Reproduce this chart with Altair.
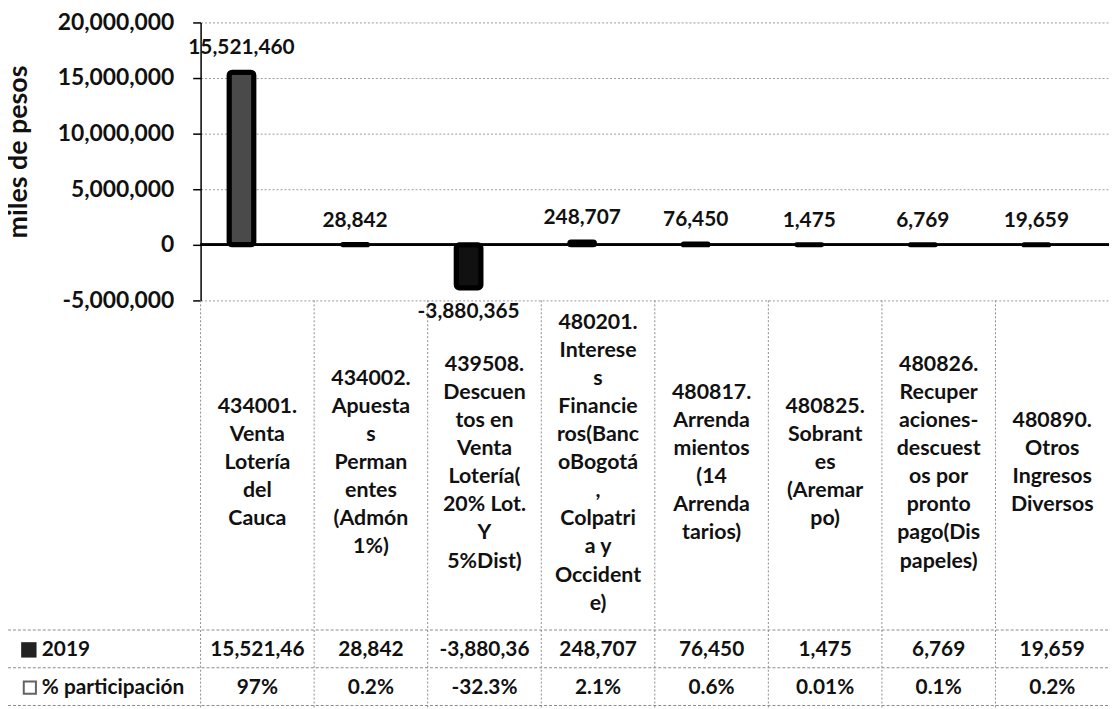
import altair as alt
import pandas as pd

# ---- data ----
categories = [
    "434001.|Venta|Lotería|del|Cauca",
    "434002.|Apuesta|s|Perman|entes|(Admón|1%)",
    "439508.|Descuen|tos en|Venta|Lotería(|20% Lot.|Y|5%Dist)",
    "480201.|Interese|s|Financie|ros(Banc|oBogotá|,|Colpatri|a y|Occident|e)",
    "480817.|Arrenda|mientos|(14|Arrenda|tarios)",
    "480825.|Sobrant|es|(Aremar|po)",
    "480826.|Recuper|aciones-|descuest|os por|pronto|pago(Dis|papeles)",
    "480890.|Otros|Ingresos|Diversos",
]
values = [15521460, 28842, -3880365, 248707, 76450, 1475, 6769, 19659]
table_2019 = ["15,521,46", "28,842", "-3,880,36", "248,707", "76,450", "1,475", "6,769", "19,659"]
table_pct = ["97%", "0.2%", "-32.3%", "2.1%", "0.6%", "0.01%", "0.1%", "0.2%"]
row_headers = ["2019", "% participación"]
y_ticks = [-5000000, 0, 5000000, 10000000, 15000000, 20000000]
y_domain = [-5000000, 20000000]

df = pd.DataFrame({"cat": categories, "value": values, "t2019": table_2019, "tpct": table_pct})

FONT = "Lato"
INK = "#111111"
W, H = 915, 280
LINE_H = 28.3

x_enc = alt.X(
    "cat:N",
    sort=categories,
    scale=alt.Scale(paddingInner=0, paddingOuter=0),
    axis=None,
)
x_plain = alt.X("cat:N", sort=categories)

y_enc = alt.Y(
    "value:Q",
    scale=alt.Scale(domain=y_domain, nice=False, zero=False),
    axis=alt.Axis(
        values=y_ticks,
        labelExpr="(datum.value < 0 ? '-' : '') + format(abs(datum.value), ',')",
        labelFont=FONT,
        labelFontSize=23,
        labelFontWeight="bold",
        labelColor=INK,
        labelPadding=19,
        tickSize=8,
        tickColor="#000000",
        tickWidth=1.5,
        domainColor="#000000",
        domainWidth=1.5,
        grid=True,
        gridColor="#9a9a9a",
        gridDash=[2, 2],
        gridWidth=1,
        title="miles de pesos",
        titleFont=FONT,
        titleFontSize=27,
        titleFontWeight="bold",
        titleColor=INK,
        titleAngle=270,
        titleAlign="center",
        titleBaseline="bottom",
        titleX=-169,
        titleY=130,
    ),
)
y_plain = alt.Y("value:Q")

base = alt.Chart(df).transform_calculate(
    lbl="(datum.value < 0 ? '-' : '') + format(abs(datum.value), ',')"
)

zero_rule = base.mark_rule(color="#000000", strokeWidth=2).encode(y=alt.datum(0))

bars = base.mark_bar(
    size=25, xOffset=-16, cornerRadius=3, stroke="#000000", strokeWidth=5, strokeJoin="round"
).encode(
    x=x_enc,
    y=y_enc,
    fill=alt.condition(alt.datum.cat == categories[0], alt.value("#4a4a4a"), alt.value("#111111")),
)

lab_style = dict(font=FONT, fontSize=21, fontWeight="bold", color=INK, xOffset=-16, baseline="alphabetic")
labels_pos = base.transform_filter("datum.value >= 0").mark_text(dy=-18, **lab_style).encode(
    x=x_plain, y=y_plain, text="lbl:N"
)
labels_neg = base.transform_filter("datum.value < 0").mark_text(dy=30, **lab_style).encode(
    x=x_plain, y=y_plain, text="lbl:N"
)

# category names, vertically centred in the band below the plot
line_counts = sorted({len(c.split("|")) for c in categories})
cat_layers = [
    base.transform_filter(f"length(split(datum.cat, '|')) == {n}").mark_text(
        lineBreak="|",
        lineHeight=LINE_H,
        baseline="middle",
        align="center",
        dy=-(n - 1) * LINE_H / 2,
        font=FONT,
        fontSize=21.5,
        fontWeight="bold",
        color=INK,
    ).encode(x=x_plain, y=alt.value(H + 164), text="cat:N")
    for n in line_counts
]

# data-table grid
vlines = base.mark_rule(color="#8a8a8a", strokeDash=[2, 2], strokeWidth=1).encode(
    x=alt.X("cat:N", sort=categories, bandPosition=0),
    y=alt.value(H),
    y2=alt.value(H + 410),
)
one = pd.DataFrame({"k": [0]})
hlines = [
    alt.Chart(one).mark_rule(color="#8a8a8a", strokeDash=[3, 2], strokeWidth=1).encode(
        x=alt.value(-194), x2=alt.value(W), y=alt.value(yy)
    )
    for yy in (H + 332, H + 370, H + 408)
]

cell_style = dict(font=FONT, fontSize=21, fontWeight="bold", color=INK, baseline="middle")
row1 = base.mark_text(**cell_style).encode(x=x_plain, y=alt.value(H + 352), text="t2019:N")
row2 = base.mark_text(**cell_style).encode(x=x_plain, y=alt.value(H + 390), text="tpct:N")

hdr1 = alt.Chart(pd.DataFrame({"h": [row_headers[0]]})).mark_text(align="left", **cell_style).encode(
    x=alt.value(-160), y=alt.value(H + 352), text="h:N"
)
hdr2 = alt.Chart(pd.DataFrame({"h": [row_headers[1]]})).mark_text(align="left", **cell_style).encode(
    x=alt.value(-160), y=alt.value(H + 390), text="h:N"
)
key1 = alt.Chart(one).mark_square(size=240, color="#222222", opacity=1).encode(
    x=alt.value(-173), y=alt.value(H + 352)
)
key2 = alt.Chart(one).mark_square(size=150, filled=False, stroke="#222222", strokeWidth=2).encode(
    x=alt.value(-172), y=alt.value(H + 390)
)

chart = alt.layer(
    zero_rule, bars, labels_pos, labels_neg, *cat_layers, vlines, *hlines,
    row1, row2, hdr1, hdr2, key1, key2
).properties(
    width=W,
    height=H,
    autosize=alt.AutoSizeParams(type="none"),
    padding={"left": 194, "top": 12, "right": 0, "bottom": 409},
    background="white",
).configure_view(stroke=None)

chart.save("out.html", embed_options={"renderer": "svg", "actions": False})
